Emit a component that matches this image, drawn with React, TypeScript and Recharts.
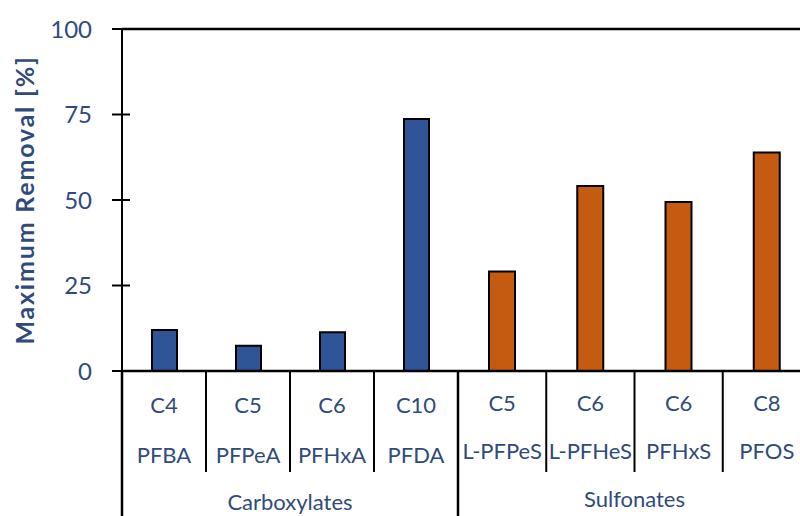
import React from 'react';
import { BarChart, Bar, XAxis, YAxis, ReferenceLine, Label } from 'recharts';

const carbonC = ['C4', 'C5', 'C6', 'C10'];
const namesC = ['PFBA', 'PFPeA', 'PFHxA', 'PFDA'];
const removalC = [12.0, 7.4, 11.3, 73.7];

const carbonS = ['C5', 'C6', 'C6', 'C8'];
const namesS = ['L-PFPeS', 'L-PFHeS', 'PFHxS', 'PFOS'];
const removalS = [29.1, 54.1, 49.4, 63.9];

const groups = ['Carboxylates', 'Sulfonates'];
const yTicks = [0, 25, 50, 75, 100];

const dataC = namesC.map((n, i) => ({ name: n, carbon: carbonC[i], value: removalC[i] }));
const dataS = namesS.map((n, i) => ({ name: n, carbon: carbonS[i], value: removalS[i] }));

const BLUE = '#2F5597';
const ORANGE = '#C55A11';
const TEXT = '#2F4B7C';
const FONT = 'Lato, "Noto Sans", sans-serif';

const H = 516;
const TOP = 29;
const XH = 145;

const makeXTick = (carbons: string[], bandW: number, rows: number[]) => (props: any) => {
  const { x, y, payload, index } = props;
  const left = x - bandW / 2;
  const first = index === 0;
  return (
    <g>
      <line
        x1={left}
        x2={left}
        y1={y}
        y2={first ? y + XH : y + 101}
        stroke="#000"
        strokeWidth={first ? 2.5 : 2}
      />
      <text x={x} y={y + rows[0]} textAnchor="middle" fill={TEXT} fontSize={22} fontFamily={FONT}>
        {carbons[index]}
      </text>
      <text x={x} y={y + rows[1]} textAnchor="middle" fill={TEXT} fontSize={22} fontFamily={FONT}>
        {payload.value}
      </text>
    </g>
  );
};

const YTick = (props: any) => {
  const { x, y, payload } = props;
  return (
    <g>
      <line x1={x + 20} x2={x + 38} y1={y} y2={y} stroke="#000" strokeWidth={2} />
      <text x={x} y={y + 8.5} textAnchor="end" fill={TEXT} fontSize={24} fontFamily={FONT}>
        {payload.value}
      </text>
    </g>
  );
};

const groupLabel = (text: string, dy: number) => (p: any) => {
  const vb = p.viewBox || {};
  return (
    <text
      x={vb.x + vb.width / 2}
      y={vb.y + dy}
      textAnchor="middle"
      fill={TEXT}
      fontSize={22}
      fontFamily={FONT}
    >
      {text}
    </text>
  );
};

const yLabel = (p: any) => {
  const vb = p.viewBox || {};
  const cx = vb.x + 24;
  const cy = vb.y + vb.height / 2;
  return (
    <text
      x={cx}
      y={cy}
      transform={`rotate(-90 ${cx} ${cy})`}
      textAnchor="middle"
      dominantBaseline="central"
      fill={TEXT}
      fontSize={25}
      letterSpacing={1.8}
      fontWeight="bold"
      fontFamily={FONT}
    >
      Maximum Removal [%]
    </text>
  );
};

export default function App() {
  return (
    <div
      style={{
        position: 'absolute',
        left: 0,
        top: 0,
        width: 800,
        height: H,
        overflow: 'hidden',
        background: '#fff',
      }}
    >
      <div style={{ position: 'absolute', left: 0, top: 0 }}>
        <BarChart width={460} height={H} data={dataC} margin={{ top: TOP, right: 2, left: 0, bottom: 0 }}>
          <YAxis
            width={122}
            domain={[0, 100]}
            ticks={yTicks}
            interval={0}
            tickSize={10}
            tickMargin={20}
            tickLine={false}
            axisLine={{ stroke: '#000', strokeWidth: 2 }}
            tick={<YTick />}
          >
            <Label content={yLabel} />
          </YAxis>
          <XAxis
            dataKey="name"
            height={XH}
            interval={0}
            tickSize={0}
            tickMargin={0}
            tickLine={false}
            axisLine={{ stroke: '#000', strokeWidth: 2.5 }}
            tick={makeXTick(carbonC, 84, [42, 92])}
          >
            <Label content={groupLabel(groups[0], 139)} />
          </XAxis>
          <ReferenceLine y={100} stroke="#000" strokeWidth={2.5} />
          <Bar dataKey="value" fill={BLUE} stroke="#000" strokeWidth={2} barSize={25} isAnimationActive={false} />
        </BarChart>
      </div>
      <div style={{ position: 'absolute', left: 450, top: 0 }}>
        <BarChart width={370} height={H} data={dataS} margin={{ top: TOP, right: 9, left: 8, bottom: 0 }}>
          <YAxis hide domain={[0, 100]} ticks={yTicks} />
          <XAxis
            dataKey="name"
            height={XH}
            interval={0}
            tickSize={0}
            tickMargin={0}
            tickLine={false}
            axisLine={{ stroke: '#000', strokeWidth: 2.5 }}
            tick={makeXTick(carbonS, 88.25, [40, 88])}
          >
            <Label content={groupLabel(groups[1], 136)} />
          </XAxis>
          <ReferenceLine y={100} stroke="#000" strokeWidth={2.5} />
          <Bar dataKey="value" fill={ORANGE} stroke="#000" strokeWidth={2} barSize={26} isAnimationActive={false} />
        </BarChart>
      </div>
    </div>
  );
}
